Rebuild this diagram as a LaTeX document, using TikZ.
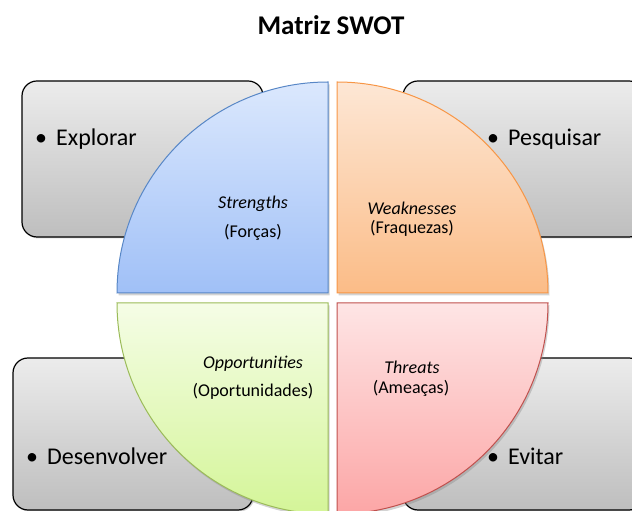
\documentclass[tikz,border=0pt]{standalone}
\usepackage{fontspec}
\setmainfont{Carlito}
\usetikzlibrary{shadows}

\definecolor{sblue}{RGB}{219,232,253}
\definecolor{sbluedark}{RGB}{160,192,247}
\definecolor{sblueline}{RGB}{88,135,198}
\definecolor{worange}{RGB}{253,231,213}
\definecolor{worangedark}{RGB}{251,188,135}
\definecolor{worangeline}{RGB}{247,150,70}
\definecolor{ogreen}{RGB}{245,253,230}
\definecolor{ogreendark}{RGB}{212,245,152}
\definecolor{ogreenline}{RGB}{155,187,89}
\definecolor{tred}{RGB}{254,229,229}
\definecolor{treddark}{RGB}{252,166,166}
\definecolor{tredline}{RGB}{192,80,77}
\definecolor{boxtop}{RGB}{236,236,236}
\definecolor{boxbottom}{RGB}{190,190,190}

\begin{document}
\begin{tikzpicture}[
    x=1pt, y=1pt,
    graybox/.style={draw=black, line width=1.2pt, rounded corners=15pt, top color=boxtop, bottom color=boxbottom,
        drop shadow={opacity=0.35, shadow xshift=1.5pt, shadow yshift=-1.5pt}, inner sep=0pt}, % Gray boxes
    quadshade/.style={line width=1pt, drop shadow={opacity=0.35, shadow xshift=1.5pt, shadow yshift=-2.5pt}}, % Quadrants
    bullettext/.style={inner sep=0pt, anchor=west, font=\fontsize{24}{28}\selectfont}, % Box labels
    quadtitle/.style={inner sep=0pt, font=\fontsize{18}{21}\selectfont\itshape}, % English names
    quadsub/.style={inner sep=0pt, font=\fontsize{18}{21}\selectfont} % Portuguese names
]

    % Fix picture size
    \useasboundingbox (0,0) rectangle (632,511);
    \clip (0,0) rectangle (632,511);

    % Define Coordinates (inner corners of the four quadrants)
    \coordinate (cs) at (328,218);
    \coordinate (cw) at (337,218);
    \coordinate (co) at (328,208);
    \coordinate (ct) at (337,208);

    % Gray Boxes behind the circle
    \node[graybox, minimum width=241pt, minimum height=156pt] (explorar) at (142.5,352) {};
    \node[graybox, minimum width=241pt, minimum height=156pt] (pesquisar) at (523.5,352) {};
    \node[graybox, minimum width=240pt, minimum height=152pt] (desenvolver) at (133,77) {};
    \node[graybox, minimum width=241pt, minimum height=152pt] (evitar) at (523.5,77) {};

    % Draw the Four Quadrants
    \draw[quadshade, draw=sblueline, top color=sblue, bottom color=sbluedark]
        (cs) -- ++(-211,0) arc[start angle=180, end angle=90, radius=211] -- cycle;
    \draw[quadshade, draw=worangeline, top color=worange, bottom color=worangedark]
        (cw) -- ++(211,0) arc[start angle=0, end angle=90, radius=211] -- cycle;
    \draw[quadshade, draw=ogreenline, top color=ogreen, bottom color=ogreendark]
        (co) -- ++(-211,0) arc[start angle=180, end angle=270, radius=211] -- cycle;
    \draw[quadshade, draw=tredline, top color=tred, bottom color=treddark]
        (ct) -- ++(211,0) arc[start angle=0, end angle=-90, radius=211] -- cycle;

    % Title
    \node[font=\fontsize{27}{32}\selectfont\bfseries] (title) at (331,486) {Matriz SWOT};

    % Box Labels
    \node[bullettext] (explorartext) at (35,372) {\textbullet\hspace{9pt}Explorar};
    \node[bullettext] (pesquisartext) at (487,372) {\textbullet\hspace{9pt}Pesquisar};
    \node[bullettext] (desenvolvertext) at (26,55) {\textbullet\hspace{9pt}Desenvolver};
    \node[bullettext] (evitartext) at (487,55) {\textbullet\hspace{9pt}Evitar};

    % Quadrant Labels
    \node[quadtitle] (strengths) at (253,307) {Strengths};
    \node[quadsub] (forcas) at (253,279) {(Forças)};
    \node[quadtitle] (weaknesses) at (412,303) {Weaknesses};
    \node[quadsub] (fraquezas) at (412,283) {(Fraquezas)};
    \node[quadtitle] (opportunities) at (253,147) {Opportunities};
    \node[quadsub] (oportunidades) at (253,120) {(Oportunidades)};
    \node[quadtitle] (threats) at (412,144) {Threats};
    \node[quadsub] (ameacas) at (411,123) {(Ameaças)};

\end{tikzpicture}
\end{document}
